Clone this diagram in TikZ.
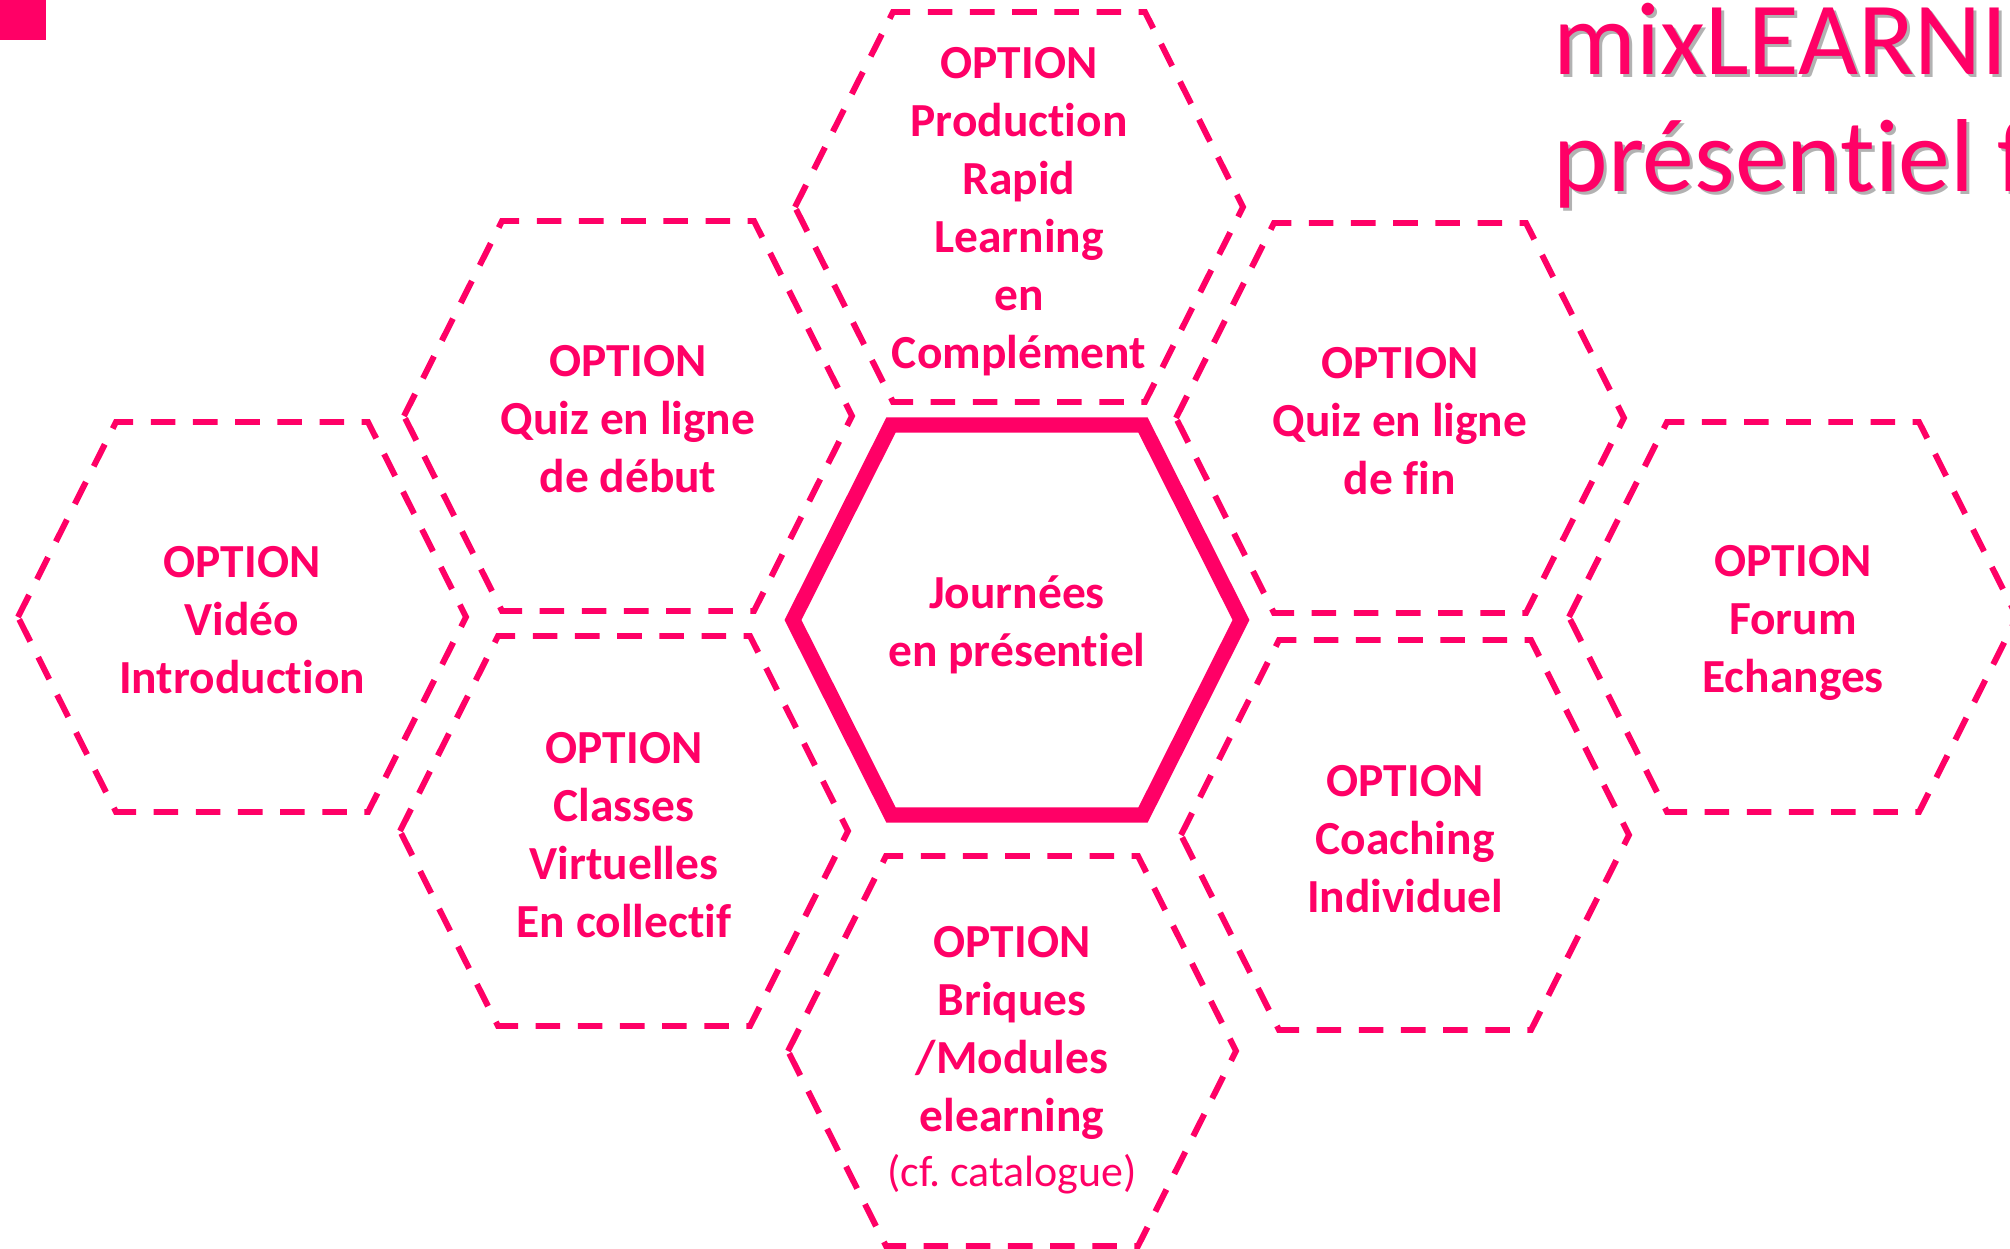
\documentclass[tikz,border=0pt]{standalone}
\usepackage{fontspec}
\setmainfont{Carlito}[Ligatures=CommonOff]
\usepackage{xcolor}
\definecolor{rose}{RGB}{255,0,102}
\frenchspacing

\begin{document}
\begin{tikzpicture}[x=0.1mm, y=-0.1mm]
\tikzstyle{every node}=[align=center, text=rose, inner sep=0pt,
                        font=\fontsize{13.5}{16.5}\selectfont\bfseries]
\tikzstyle{alveole}=[draw=rose, line width=1.7pt, dash pattern=on 7pt off 5pt]
\tikzstyle{coeur}=[draw=rose, line width=4.3pt]
\tikzstyle{titre}=[anchor=base west, font=\fontsize{29.5}{35}\selectfont]
\clip (0,0) rectangle (2010,1249);
\fill[rose] (0,0) rectangle (46,40);
% hexagones en pointilles
\foreach \x/\y in {1019/207, 628/416, 1400/418, 242/617, 1793/617,
                   624/831, 1405/835, 1012/1051}{
  \path[alveole] (\x-224,\y) -- (\x-126,\y-195) -- (\x+126,\y-195)
     -- (\x+224,\y) -- (\x+126,\y+195) -- (\x-126,\y+195) -- cycle;}
\path[coeur] (1017-224,620) -- (1017-126,620-195) -- (1017+126,620-195)
   -- (1017+224,620) -- (1017+126,620+195) -- (1017-126,620+195) -- cycle;
% textes
\node (centre) at (1017,625) {Journées\\en présentiel};
\node (prod) at (1019,212) {OPTION\\Production\\Rapid\\Learning\\en\\Complément};
\node (qdebut) at (628,419) {OPTION\\Quiz en ligne\\de début};
\node (qfin) at (1400,421) {OPTION\\Quiz en ligne\\de fin};
\node (video) at (242,620) {OPTION\\Vidéo\\Introduction};
\node (forum) at (1793,623) {OPTION\\Forum\\Echanges};
\node (classes) at (624,835) {OPTION\\Classes\\Virtuelles\\En collectif};
\node (coaching) at (1405,839) {OPTION\\Coaching\\Individuel};
\node (briques) at (1012,1060) {OPTION\\Briques\\/Modules\\elearning\\[-1pt]{\mdseries\fontsize{12.5}{15}\selectfont (cf. catalogue)}};
% titre
\node[titre, text=black!30] (ombre1) at (1556,78) {mixLEARNI};
\node[titre, text=black!30] (ombre2) at (1556,195) {présentiel f};
\node[titre] (titre1) at (1553,75) {mixLEARNI};
\node[titre] (titre2) at (1553,192) {présentiel f};
\end{tikzpicture}
\end{document}
